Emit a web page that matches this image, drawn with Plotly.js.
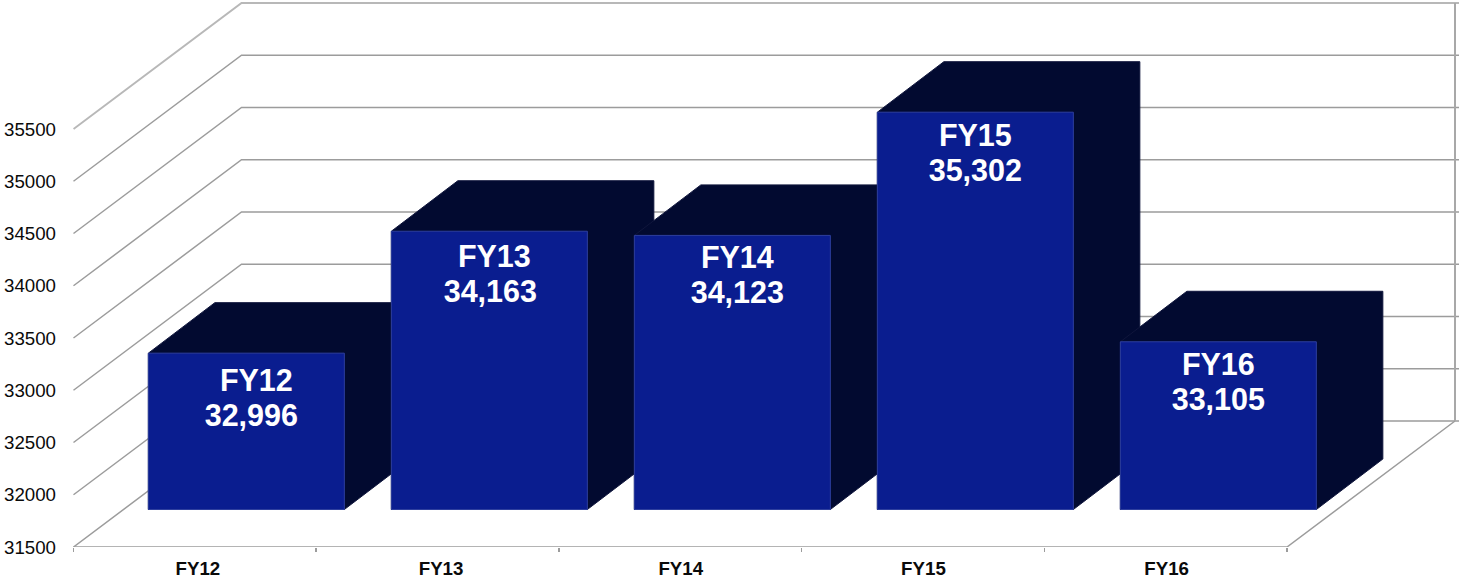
<!DOCTYPE html>
<html>
<head>
<meta charset="utf-8">
<script src="https://cdn.plot.ly/plotly-3.0.1.min.js"></script>
<style>html,body{margin:0;padding:0;background:#fff}#chart{width:1459px;height:580px}</style>
</head>
<body>
<div id="chart"></div>
<script>
// ---- data ----
const categories = ["FY12", "FY13", "FY14", "FY15", "FY16"];
const values = [32996, 34163, 34123, 35302, 33105];
const valueLabels = ["32,996", "34,163", "34,123", "35,302", "33,105"];
const yTicks = [31500, 32000, 32500, 33000, 33500, 34000, 34500, 35000, 35500];

// ---- geometry (pixels converted to axis units) ----
const W = 1459, H = 580;
const marginL = 73, marginB = 33;
const pxPerCat = 242.7, pxPerVal = 0.1045;
const yMin = 31500;
const px = p => p / pxPerCat;
const py = p => p / pxPerVal;
const xRange = [-0.5 - px(0.5), -0.5 - px(0.5) + px(W - marginL)];
const yRange = [yMin, yMin + py(H - marginB)];

const wallDx = px(168), wallDy = py(126);      // floor depth
const frontDx = px(51.5), frontDy = py(37.5);  // bars' front plane
const barDx = px(66.5), barDy = py(50.5);      // bar depth
const barW = px(196);
const barStep = 243 / pxPerCat;                // bars sit slightly wider apart than the floor slots
const xLeft = -0.5, xRight = 4.5;

// label fine placement, px
const nameNudgeX = [10, 5, 5, 0, 0];
const valueNudgeX = [5, 1, 5, 0, 0];
const labelDrop = [30.5, 28, 24.5, 26, 26];
const lineGap = 35;
const tickNudge = [3, 3.5, 0.5, 0.5, 1];

const gridColor = "#9c9c9c", axisColor = "#9c9c9c";
const frontColor = "#0a1d8f", sideColor = "#020a30";
const fontFam = '"Liberation Sans", Arial, sans-serif';

const traces = [];
const barX = i => i * barStep + frontDx;

// walls: gridlines run along the left wall and then the back wall
yTicks.forEach((t, k) => {
  const top = k === yTicks.length - 1;
  traces.push({
    type: "scatter", mode: "lines", hoverinfo: "skip", showlegend: false,
    x: [xLeft, xLeft + wallDx, xRight + wallDx, xRight + wallDx + px(4)],
    y: [t, t + wallDy, t + wallDy, t + wallDy],
    line: {color: top ? "#b8b8b8" : gridColor, width: top ? 2 : 1.5}
  });
});
// right edge of the back wall
traces.push({
  type: "scatter", mode: "lines", hoverinfo: "skip", showlegend: false,
  x: [xRight + wallDx, xRight + wallDx],
  y: [yTicks[0] + wallDy, yTicks[yTicks.length - 1] + wallDy],
  line: {color: "#a8a8a8", width: 2}
});
// floor front and right edges
traces.push({
  type: "scatter", mode: "lines", hoverinfo: "skip", showlegend: false,
  x: [xLeft, xRight, xRight + wallDx],
  y: [yMin, yMin, yMin + wallDy],
  line: {color: axisColor, width: 1.5}
});

// bar top and side faces, behind every front face
values.forEach((v, i) => {
  const x0 = barX(i) - barW / 2, x1 = barX(i) + barW / 2;
  const t = v + frontDy, b = yMin + frontDy;
  traces.push({
    type: "scatter", mode: "lines", fill: "toself", fillcolor: sideColor,
    hoverinfo: "skip", showlegend: false,
    x: [x0, x0 + barDx, x1 + barDx, x1 + barDx, x1, x0, x0],
    y: [t, t + barDy, t + barDy, b + barDy, b, b, t],
    line: {color: "#10163c", width: 1}
  });
});

// bar front faces on an overlay so they sit above all dark faces
traces.push({
  type: "bar", xaxis: "x2", yaxis: "y2", hoverinfo: "skip", showlegend: false,
  x: categories.map((c, i) => barX(i)),
  y: values.map(v => v - yMin),
  base: yMin + frontDy,
  width: barW,
  marker: {color: frontColor, line: {color: "#2e3f9e", width: 1}}
});

// labels in the bars
const labelFont = {family: fontFam, size: 30.5, color: "#ffffff", weight: 700};
traces.push({
  type: "scatter", mode: "text", xaxis: "x2", yaxis: "y2", hoverinfo: "skip", showlegend: false,
  x: categories.map((c, i) => barX(i) + px(nameNudgeX[i])),
  y: values.map((v, i) => v + frontDy - py(labelDrop[i])),
  text: categories.map(c => "<b>" + c + "</b>"),
  textposition: "middle center", textfont: labelFont, cliponaxis: false
});
traces.push({
  type: "scatter", mode: "text", xaxis: "x2", yaxis: "y2", hoverinfo: "skip", showlegend: false,
  x: categories.map((c, i) => barX(i) + px(valueNudgeX[i])),
  y: values.map((v, i) => v + frontDy - py(labelDrop[i] + lineGap)),
  text: valueLabels.map(c => "<b>" + c + "</b>"),
  textposition: "middle center", textfont: labelFont, cliponaxis: false
});

const layout = {
  width: W, height: H,
  margin: {l: marginL, r: 0, t: 0, b: marginB, pad: 0},
  paper_bgcolor: "#ffffff", plot_bgcolor: "#ffffff",
  showlegend: false,
  bargap: 0,
  xaxis: {
    type: "linear", range: xRange, fixedrange: true,
    showgrid: false, zeroline: false, showline: false,
    tickmode: "array",
    tickvals: categories.map((c, i) => i + px(tickNudge[i])),
    ticktext: categories.map(c => "<b>" + c + "</b>"),
    ticks: "", ticklen: 0, ticklabelstandoff: 8,
    tickfont: {family: fontFam, size: 18.7, color: "#0a0a0a"},
    minor: {
      tickmode: "array",
      tickvals: [-0.5, 0.5, 1.5, 2.5, 3.5, 4.5],
      ticks: "outside", ticklen: 4, tickwidth: 1.5, tickcolor: axisColor, showgrid: false
    }
  },
  yaxis: {
    type: "linear", range: yRange, fixedrange: true,
    showgrid: false, zeroline: false, showline: false,
    tickmode: "array", tickvals: yTicks, ticktext: yTicks.map(String),
    ticks: "", ticklabelstandoff: 16,
    tickfont: {family: fontFam, size: 18.7, color: "#0a0a0a"}
  },
  xaxis2: {type: "linear", overlaying: "x", range: xRange, visible: false, fixedrange: true},
  yaxis2: {type: "linear", overlaying: "y", range: yRange, visible: false, fixedrange: true}
};

Plotly.newPlot("chart", traces, layout, {displayModeBar: false, staticPlot: true});
</script>
</body>
</html>
